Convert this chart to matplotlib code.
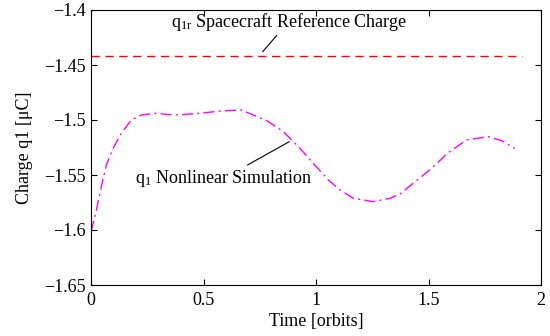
import matplotlib
matplotlib.use("Agg")
import matplotlib.pyplot as plt

# Data
t_sim = [0.0, 0.024, 0.046, 0.068, 0.098, 0.135, 0.179, 0.224, 0.283, 0.372,
         0.476, 0.579, 0.668, 0.781, 0.855, 0.929, 0.988, 1.055, 1.107, 1.166,
         1.255, 1.329, 1.373, 1.432, 1.514, 1.588, 1.67, 1.766, 1.825, 1.884]
q_sim = [-1.6015, -1.5818, -1.5606, -1.541, -1.5258, -1.512, -1.500, -1.4955,
         -1.4939, -1.4955, -1.494, -1.4918, -1.4909, -1.5006, -1.5106, -1.5258,
         -1.5394, -1.5545, -1.5636, -1.5712, -1.5742, -1.5712, -1.5673, -1.5576,
         -1.5439, -1.5297, -1.518, -1.5152, -1.5188, -1.5258]
t_ref = [0.0, 1.914]
q_ref = [-1.4418, -1.4418]

plt.rcParams["font.family"] = ["Liberation Serif", "DejaVu Serif"]
plt.rcParams["mathtext.fontset"] = "custom"
plt.rcParams["mathtext.rm"] = "Liberation Serif"
plt.rcParams["mathtext.it"] = "Liberation Serif:italic"

fig = plt.figure(figsize=(5.5, 3.36), dpi=100)
ax = fig.add_axes([91 / 550, 1 - 285 / 336, 450 / 550, 275 / 336])

ax.plot(t_ref, q_ref, color="red", linestyle=(0, (6, 4)), linewidth=1)
ax.plot(t_sim, q_sim, color="magenta", linestyle=(0, (8, 3, 1.5, 3)), linewidth=1)

ax.annotate(r"q$_\mathrm{1r}$ Spacecraft Reference Charge", xy=(0.763, -1.4379),
            xytext=(0.879, -1.4205), fontsize=13, ha="center", va="bottom",
            arrowprops=dict(arrowstyle="-", color="black", lw=0.8,
                            shrinkA=0, shrinkB=0))
ax.annotate(r"q$_\mathrm{1}$ Nonlinear Simulation", xy=(0.881, -1.5197),
            xytext=(0.59, -1.5435), fontsize=13, ha="center", va="top",
            arrowprops=dict(arrowstyle="-", color="black", lw=0.8,
                            shrinkA=0, shrinkB=0))

ax.set_xlim(0, 2)
ax.set_ylim(-1.65, -1.4)
ax.set_xticks([0, 0.5, 1, 1.5, 2])
ax.set_xticklabels(["0", "0.5", "1", "1.5", "2"])
ax.set_yticks([-1.65, -1.6, -1.55, -1.5, -1.45, -1.4])
ax.set_yticklabels(["\u22121.65", "\u22121.6", "\u22121.55", "\u22121.5", "\u22121.45", "\u22121.4"])
ax.tick_params(direction="in", labelsize=13, top=True, right=True, length=4)
ax.tick_params(axis="x", pad=5)
ax.set_xlabel("Time [orbits]", fontsize=13, labelpad=3)
ax.set_ylabel("Charge q1 [\u03bcC]", fontsize=13, labelpad=8)

fig.savefig("out.png", dpi=100)
